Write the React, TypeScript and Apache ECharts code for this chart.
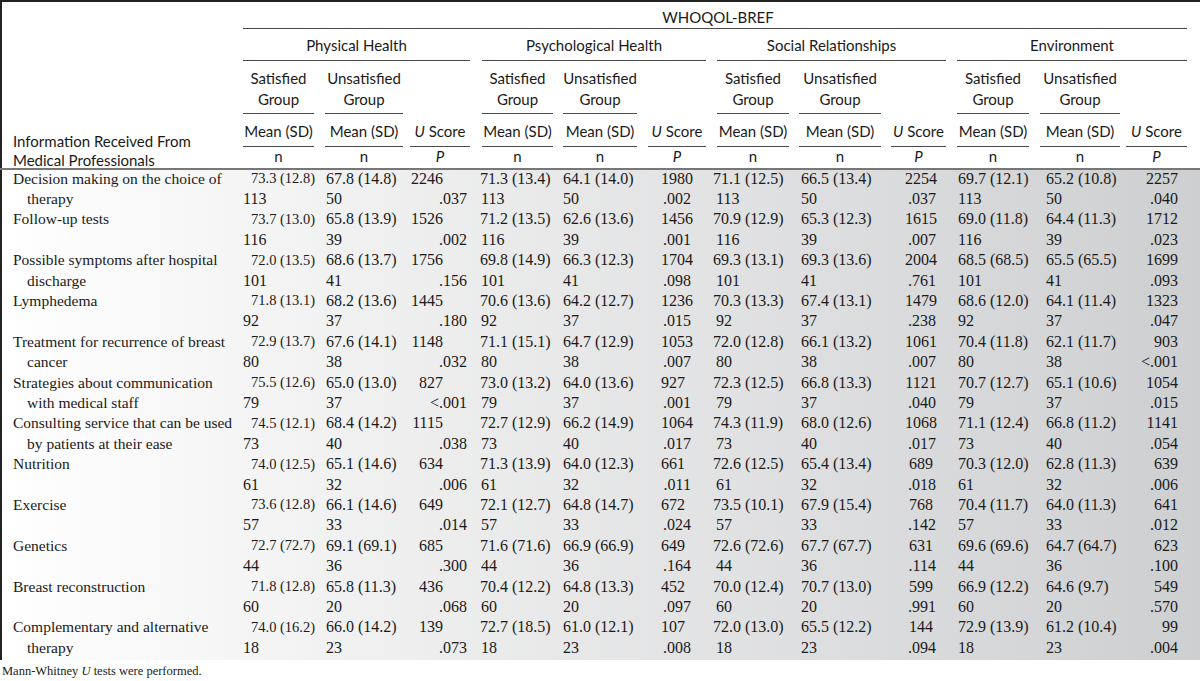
import React, { useEffect, useRef } from "react";
import * as echarts from "echarts";

// ---------- data ----------
const itemLabels: string[][] = [
  ["Decision making on the choice of", "therapy"],
  ["Follow-up tests"],
  ["Possible symptoms after hospital", "discharge"],
  ["Lymphedema"],
  ["Treatment for recurrence of breast", "cancer"],
  ["Strategies about communication", "with medical staff"],
  ["Consulting service that can be used", "by patients at their ease"],
  ["Nutrition"],
  ["Exercise"],
  ["Genetics"],
  ["Breast reconstruction"],
  ["Complementary and alternative", "therapy"],
];
const nSatisfied = ["113", "116", "101", "92", "80", "79", "73", "61", "57", "44", "60", "18"];
const nUnsatisfied = ["50", "39", "41", "37", "38", "37", "40", "32", "33", "36", "20", "23"];

const physSat = ["73.3 (12.8)", "73.7 (13.0)", "72.0 (13.5)", "71.8 (13.1)", "72.9 (13.7)", "75.5 (12.6)", "74.5 (12.1)", "74.0 (12.5)", "73.6 (12.8)", "72.7 (72.7)", "71.8 (12.8)", "74.0 (16.2)"];
const physUnsat = ["67.8 (14.8)", "65.8 (13.9)", "68.6 (13.7)", "68.2 (13.6)", "67.6 (14.1)", "65.0 (13.0)", "68.4 (14.2)", "65.1 (14.6)", "66.1 (14.6)", "69.1 (69.1)", "65.8 (11.3)", "66.0 (14.2)"];
const physU = ["2246", "1526", "1756", "1445", "1148", "827", "1115", "634", "649", "685", "436", "139"];
const physP = [".037", ".002", ".156", ".180", ".032", "<.001", ".038", ".006", ".014", ".300", ".068", ".073"];

const psychSat = ["71.3 (13.4)", "71.2 (13.5)", "69.8 (14.9)", "70.6 (13.6)", "71.1 (15.1)", "73.0 (13.2)", "72.7 (12.9)", "71.3 (13.9)", "72.1 (12.7)", "71.6 (71.6)", "70.4 (12.2)", "72.7 (18.5)"];
const psychUnsat = ["64.1 (14.0)", "62.6 (13.6)", "66.3 (12.3)", "64.2 (12.7)", "64.7 (12.9)", "64.0 (13.6)", "66.2 (14.9)", "64.0 (12.3)", "64.8 (14.7)", "66.9 (66.9)", "64.8 (13.3)", "61.0 (12.1)"];
const psychU = ["1980", "1456", "1704", "1236", "1053", "927", "1064", "661", "672", "649", "452", "107"];
const psychP = [".002", ".001", ".098", ".015", ".007", ".001", ".017", ".011", ".024", ".164", ".097", ".008"];

const socSat = ["71.1 (12.5)", "70.9 (12.9)", "69.3 (13.1)", "70.3 (13.3)", "72.0 (12.8)", "72.3 (12.5)", "74.3 (11.9)", "72.6 (12.5)", "73.5 (10.1)", "72.6 (72.6)", "70.0 (12.4)", "72.0 (13.0)"];
const socUnsat = ["66.5 (13.4)", "65.3 (12.3)", "69.3 (13.6)", "67.4 (13.1)", "66.1 (13.2)", "66.8 (13.3)", "68.0 (12.6)", "65.4 (13.4)", "67.9 (15.4)", "67.7 (67.7)", "70.7 (13.0)", "65.5 (12.2)"];
const socU = ["2254", "1615", "2004", "1479", "1061", "1121", "1068", "689", "768", "631", "599", "144"];
const socP = [".037", ".007", ".761", ".238", ".007", ".040", ".017", ".018", ".142", ".114", ".991", ".094"];

const envSat = ["69.7 (12.1)", "69.0 (11.8)", "68.5 (68.5)", "68.6 (12.0)", "70.4 (11.8)", "70.7 (12.7)", "71.1 (12.4)", "70.3 (12.0)", "70.4 (11.7)", "69.6 (69.6)", "66.9 (12.2)", "72.9 (13.9)"];
const envUnsat = ["65.2 (10.8)", "64.4 (11.3)", "65.5 (65.5)", "64.1 (11.4)", "62.1 (11.7)", "65.1 (10.6)", "66.8 (11.2)", "62.8 (11.3)", "64.0 (11.3)", "64.7 (64.7)", "64.6 (9.7)", "61.2 (10.4)"];
const envU = ["2257", "1712", "1699", "1323", "903", "1054", "1141", "639", "641", "623", "549", "99"];
const envP = [".040", ".023", ".093", ".047", "<.001", ".015", ".054", ".006", ".012", ".100", ".570", ".004"];

const domainNames = ["Physical Health", "Psychological Health", "Social Relationships", "Environment"];
const topTitle = "WHOQOL-BREF";
const rowHeaderLines = ["Information Received From", "Medical Professionals"];
const footnote = "Mann-Whitney {i|U} tests were performed.";

// ---------- layout ----------
const SANS = "Lato, 'Noto Sans', sans-serif";
const SERIF = "'Liberation Serif', 'DejaVu Serif', serif";
const TXT = "#1a1a1a";
const LINE = "#4a4a4a";
const NUM_FONT = `16px ${SERIF}`;
const LABEL_FONT = `15.5px ${SERIF}`;

const domains = [
  { sat: physSat, unsat: physUnsat, u: physU, p: physP, span: [243, 470], satCol: [243, 314], unsatCol: [325, 403], uCol: [410, 470], satMeanX: 251, satMeanFont: `14.5px ${SERIF}`, satNX: 243, unsatX: 326, uAlign: "right", uX: 443, pX: 467 },
  { sat: psychSat, unsat: psychUnsat, u: psychU, p: psychP, span: [482, 706], satCol: [482, 553], unsatCol: [563, 637], uCol: [648, 706], satMeanX: 480, satMeanFont: NUM_FONT, satNX: 481, unsatX: 563, uAlign: "left", uX: 661, pX: 691 },
  { sat: socSat, unsat: socUnsat, u: socU, p: socP, span: [717, 946], satCol: [717, 789], unsatCol: [799, 881], uCol: [891, 946], satMeanX: 713, satMeanFont: NUM_FONT, satNX: 716, unsatX: 801, uAlign: "center", uX: 921, pX: 936 },
  { sat: envSat, unsat: envUnsat, u: envU, p: envP, span: [957, 1187], satCol: [957, 1029], unsatCol: [1040, 1120], uCol: [1126, 1187], satMeanX: 958, satMeanFont: NUM_FONT, satNX: 958, unsatX: 1046, uAlign: "right", uX: 1178, pX: 1178 },
];

const ROW0 = 178;
const PITCH = 20.4;
const HEAD_LINE = 169;
const BODY_BOTTOM = 660;

function hline(x1: number, x2: number, y: number, w = 1.2, c = LINE) {
  return { type: "line", silent: true, shape: { x1, y1: y, x2, y2: y }, style: { stroke: c, lineWidth: w } };
}
function txt(text: string, x: number, y: number, opts: any = {}) {
  return {
    type: "text",
    silent: true,
    x,
    y,
    style: {
      text,
      fill: TXT,
      font: opts.font || NUM_FONT,
      align: opts.align || "left",
      verticalAlign: "middle",
      rich: opts.rich,
    },
  };
}

function buildElements() {
  const els: any[] = [];
  // body background gradient
  els.push({
    type: "rect",
    silent: true,
    shape: { x: 0, y: HEAD_LINE, width: 1200, height: BODY_BOTTOM - HEAD_LINE },
    style: {
      fill: {
        type: "linear", x: 0, y: 0, x2: 1, y2: 0,
        colorStops: [
          { offset: 0, color: "#ffffff" },
          { offset: 0.12, color: "#f9f9f9" },
          { offset: 1, color: "#cecfd1" },
        ],
      },
    },
  });
  // borders
  els.push(hline(0, 1200, 1, 2, "#222"));
  els.push({ type: "line", silent: true, shape: { x1: 1, y1: 0, x2: 1, y2: BODY_BOTTOM }, style: { stroke: "#222", lineWidth: 2 } });

  const hfont = `15px ${SANS}`;
  const italicRich = { i: { fontStyle: "italic", font: `italic 15px ${SANS}`, fill: TXT } };

  // top title
  els.push(txt(topTitle, 718, 17, { font: hfont, align: "center" }));
  els.push(hline(243, 1187, 28.5));

  domains.forEach((d, k) => {
    const mid = (a: number[]) => (a[0] + a[1]) / 2;
    els.push(txt(domainNames[k], mid(d.span), 45, { font: hfont, align: "center" }));
    els.push(hline(d.span[0], d.span[1], 60.5));
    els.push(txt("Satisfied", mid(d.satCol), 78, { font: hfont, align: "center" }));
    els.push(txt("Group", mid(d.satCol), 99, { font: hfont, align: "center" }));
    els.push(txt("Unsatisfied", mid(d.unsatCol), 78, { font: hfont, align: "center" }));
    els.push(txt("Group", mid(d.unsatCol), 99, { font: hfont, align: "center" }));
    els.push(hline(d.satCol[0], d.satCol[1], 113.5));
    els.push(hline(d.unsatCol[0], d.unsatCol[1], 113.5));
    els.push(txt("Mean (SD)", mid(d.satCol), 131, { font: hfont, align: "center" }));
    els.push(txt("Mean (SD)", mid(d.unsatCol), 131, { font: hfont, align: "center" }));
    els.push(txt("{i|U} Score", mid(d.uCol), 131, { font: hfont, align: "center", rich: italicRich }));
    els.push(hline(d.satCol[0], d.satCol[1], 146.5));
    els.push(hline(d.unsatCol[0], d.unsatCol[1], 146.5));
    els.push(hline(d.uCol[0], d.uCol[1], 146.5));
    els.push(txt("n", mid(d.satCol), 156, { font: hfont, align: "center" }));
    els.push(txt("n", mid(d.unsatCol), 156, { font: hfont, align: "center" }));
    els.push(txt("P", mid(d.uCol), 156, { font: `italic 15px ${SANS}`, align: "center" }));
  });
  els.push(txt(rowHeaderLines[0], 13, 141, { font: hfont }));
  els.push(txt(rowHeaderLines[1], 13, 160, { font: hfont }));
  els.push(hline(0, 1200, HEAD_LINE, 2.2, "#777"));

  // body
  itemLabels.forEach((lab, i) => {
    const y1 = ROW0 + PITCH * 2 * i;
    const y2 = y1 + PITCH;
    els.push(txt(lab[0], 13, y1, { font: LABEL_FONT }));
    if (lab[1]) els.push(txt(lab[1], 27, y2, { font: LABEL_FONT }));
    domains.forEach((d) => {
      els.push(txt(d.sat[i], d.satMeanX, y1, { font: d.satMeanFont }));
      els.push(txt(nSatisfied[i], d.satNX, y2));
      els.push(txt(d.unsat[i], d.unsatX, y1));
      els.push(txt(nUnsatisfied[i], d.unsatX, y2));
      els.push(txt(d.u[i], d.uX, y1, { align: d.uAlign }));
      els.push(txt(d.p[i], d.pX, y2, { align: "right" }));
    });
  });

  // footnote
  els.push(txt(footnote, 2, 671, {
    font: `12.5px ${SERIF}`,
    rich: { i: { fontStyle: "italic", font: `italic 12.5px ${SERIF}`, fill: TXT } },
  }));
  return els;
}

export default function App() {
  const ref = useRef<HTMLDivElement>(null);
  useEffect(() => {
    if (!ref.current) return;
    const chart = echarts.init(ref.current, undefined, { renderer: "svg" });
    chart.setOption({
      animation: false,
      backgroundColor: "#ffffff",
      graphic: { elements: buildElements() },
    });
    return () => chart.dispose();
  }, []);
  return (
    <div
      ref={ref}
      style={{ position: "fixed", left: 0, top: 0, width: 1200, height: 681, background: "#fff" }}
    />
  );
}
